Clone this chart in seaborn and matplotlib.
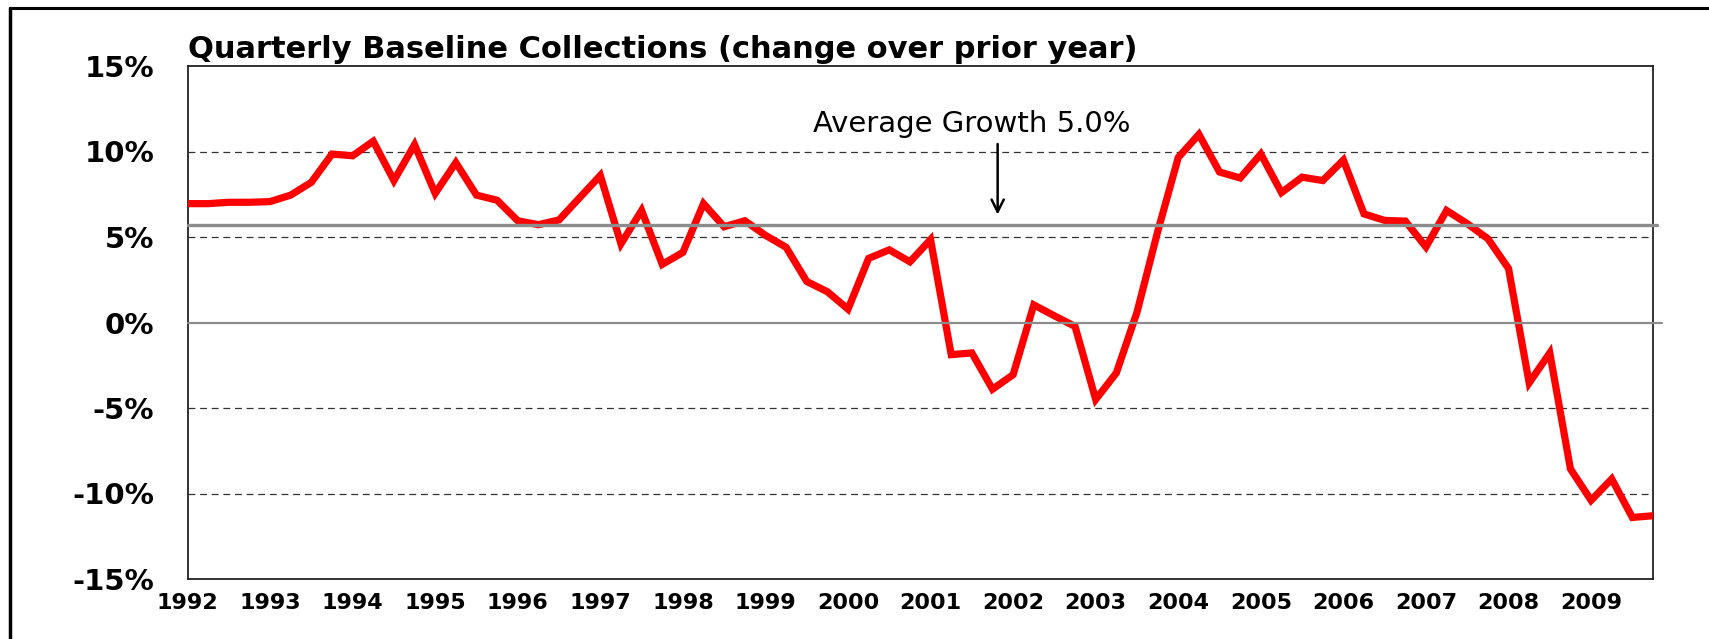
import numpy as np
import pandas as pd
import matplotlib
matplotlib.use("Agg")
import matplotlib.pyplot as plt
from matplotlib.lines import Line2D
import seaborn as sns

# ---------------- data ----------------
title_text = "Quarterly Baseline Collections (change over prior year)"
years = list(range(1992, 2010))
year_labels = [str(y) for y in years]
# quarterly change over prior year (%), 1992Q1 .. 2009Q4
growth = [6.95, 6.95, 7.03, 7.03, 7.07, 7.45, 8.2, 9.85,
          9.75, 10.6, 8.3, 10.4, 7.55, 9.35, 7.45, 7.15,
          5.95, 5.72, 6.0, 7.3, 8.6, 4.6, 6.55, 3.4,
          4.1, 6.95, 5.6, 5.95, 5.1, 4.4, 2.4, 1.8,
          0.78, 3.75, 4.25, 3.55, 4.85, -1.88, -1.78, -3.9,
          -3.05, 1.03, 0.39, -0.23, -4.5, -2.95, 0.6, 5.3,
          9.65, 11.0, 8.8, 8.45, 9.85, 7.6, 8.5, 8.3,
          9.5, 6.35, 5.97, 5.93, 4.42, 6.55, 5.78, 4.9,
          3.16, -3.53, -1.78, -8.56, -10.4, -9.15, -11.4, -11.3]
quarters = [f"{y}Q{q}" for y in years for q in range(1, 5)]
average_level = 5.73
average_label = "Average Growth 5.0%"
ytick_values = [-15, -10, -5, 0, 5, 10, 15]
ytick_labels = ["-15%", "-10%", "-5%", "0%", "5%", "10%", "15%"]
dashed_levels = [10, 5, -5, -10]

df = pd.DataFrame({"quarter": quarters[:len(growth)], "growth": growth})
df["idx"] = np.arange(len(df))

# ---------------- style ----------------
sns.set_style("white")
plt.rcParams["font.family"] = ["DejaVu Sans"]
plt.rcParams["text.color"] = "black"
plt.rcParams["xtick.color"] = "black"
plt.rcParams["ytick.color"] = "black"

W, H = 1709, 639
fig = plt.figure(figsize=(W / 100, H / 100), dpi=100)
fig.patch.set_facecolor("white")

left, right, top, bottom = 187.5, 1653, 66, 579
ax = fig.add_axes([left / W, 1 - bottom / H, (right - left) / W, (bottom - top) / H])

sns.lineplot(data=df, x="idx", y="growth", ax=ax, color="#ff0000",
             linewidth=5.2, zorder=3, solid_joinstyle="miter")

for lv in dashed_levels:
    ax.axhline(lv, color="#333333", lw=0.9, ls=(0, (5.5, 3.8)), zorder=1)
ax.axhline(0, color="#8c8c8c", lw=1.6, zorder=4, xmax=1.006, clip_on=False)
ax.axhline(average_level, color="#8c8c8c", lw=2.4, zorder=4, xmax=1.003, clip_on=False)

ax.set_xlim(0, len(growth) - 1)
ax.set_ylim(-15, 15)
ax.set_xticks(np.arange(0, 4 * len(years), 4), labels=year_labels)
ax.set_yticks(ytick_values, labels=ytick_labels)
ax.tick_params(axis="x", length=0, pad=10, labelsize=16, labelcolor="black")
ax.tick_params(axis="y", length=0, pad=24, labelsize=21, labelcolor="black")
for lab in ax.get_xticklabels() + ax.get_yticklabels():
    lab.set_fontweight("bold")
ax.set_xlabel("")
ax.set_ylabel("")

for s in ax.spines.values():
    s.set_visible(True)
    s.set_color("#222222")
    s.set_linewidth(1.3)

ax.set_title(title_text, loc="left", pad=6, fontsize=22, fontweight="bold", color="black")

# annotation
ax.text(30.3, 11.6, average_label, ha="left", va="center", fontsize=21, color="black")
ax.annotate("", xy=(39.25, 6.15), xytext=(39.25, 10.6),
            arrowprops=dict(arrowstyle="->", lw=1.8, color="black", mutation_scale=22))

# outer frame (left and top edges)
fig.add_artist(Line2D([10 / W, 10 / W], [0, 1 - 8 / H], color="black", lw=2.5, transform=fig.transFigure))
fig.add_artist(Line2D([10 / W, 1], [1 - 8 / H, 1 - 8 / H], color="black", lw=2.2, transform=fig.transFigure))

fig.savefig("out.png", dpi=100, facecolor="white")
